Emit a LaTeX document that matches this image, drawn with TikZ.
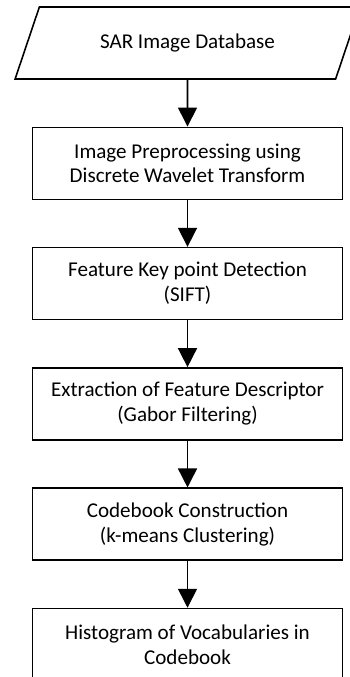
\documentclass[tikz,border=0pt]{standalone}
\usepackage{fontspec}
\setmainfont{Carlito}
\usepackage{tikz}
\usetikzlibrary{positioning,shapes.geometric,arrows.meta}

\begin{document}
\begin{tikzpicture}[x=0.02cm, y=0.02cm, node distance=0.935cm,
    stepbox/.style={draw, line width=0.9pt, fill=white, minimum width=6.2cm, minimum height=1.44cm, align=center, font=\fontsize{12}{14.2}\selectfont},
    flow/.style={-{Triangle[length=0.38cm, width=0.38cm]}, line width=0.9pt}]
        \useasboundingbox (0,0) rectangle (350,-677);
        \node[draw, line width=0.9pt, trapezium, trapezium stretches=true, trapezium left angle=63, trapezium right angle=117, minimum width=6.9cm, minimum height=1.44cm, align=center, font=\fontsize{12}{14.2}\selectfont] (db) at (187.5,-43) {SAR Image Database};
        \node[stepbox, below=of db] (dwt) {Image Preprocessing using\\Discrete Wavelet Transform};
        \node[stepbox, below=of dwt] (sift) {Feature Key point Detection\\(SIFT)};
        \node[stepbox, below=of sift] (gabor) {Extraction of Feature Descriptor\\(Gabor Filtering)};
        \node[stepbox, below=of gabor] (kmeans) {Codebook Construction\\(k-means Clustering)};
        \node[stepbox, below=of kmeans] (hist) {Histogram of Vocabularies in\\Codebook};
        \draw[flow] (db) -- (dwt);
        \draw[flow] (dwt) -- (sift);
        \draw[flow] (sift) -- (gabor);
        \draw[flow] (gabor) -- (kmeans);
        \draw[flow] (kmeans) -- (hist);
      \end{tikzpicture}
\end{document}
